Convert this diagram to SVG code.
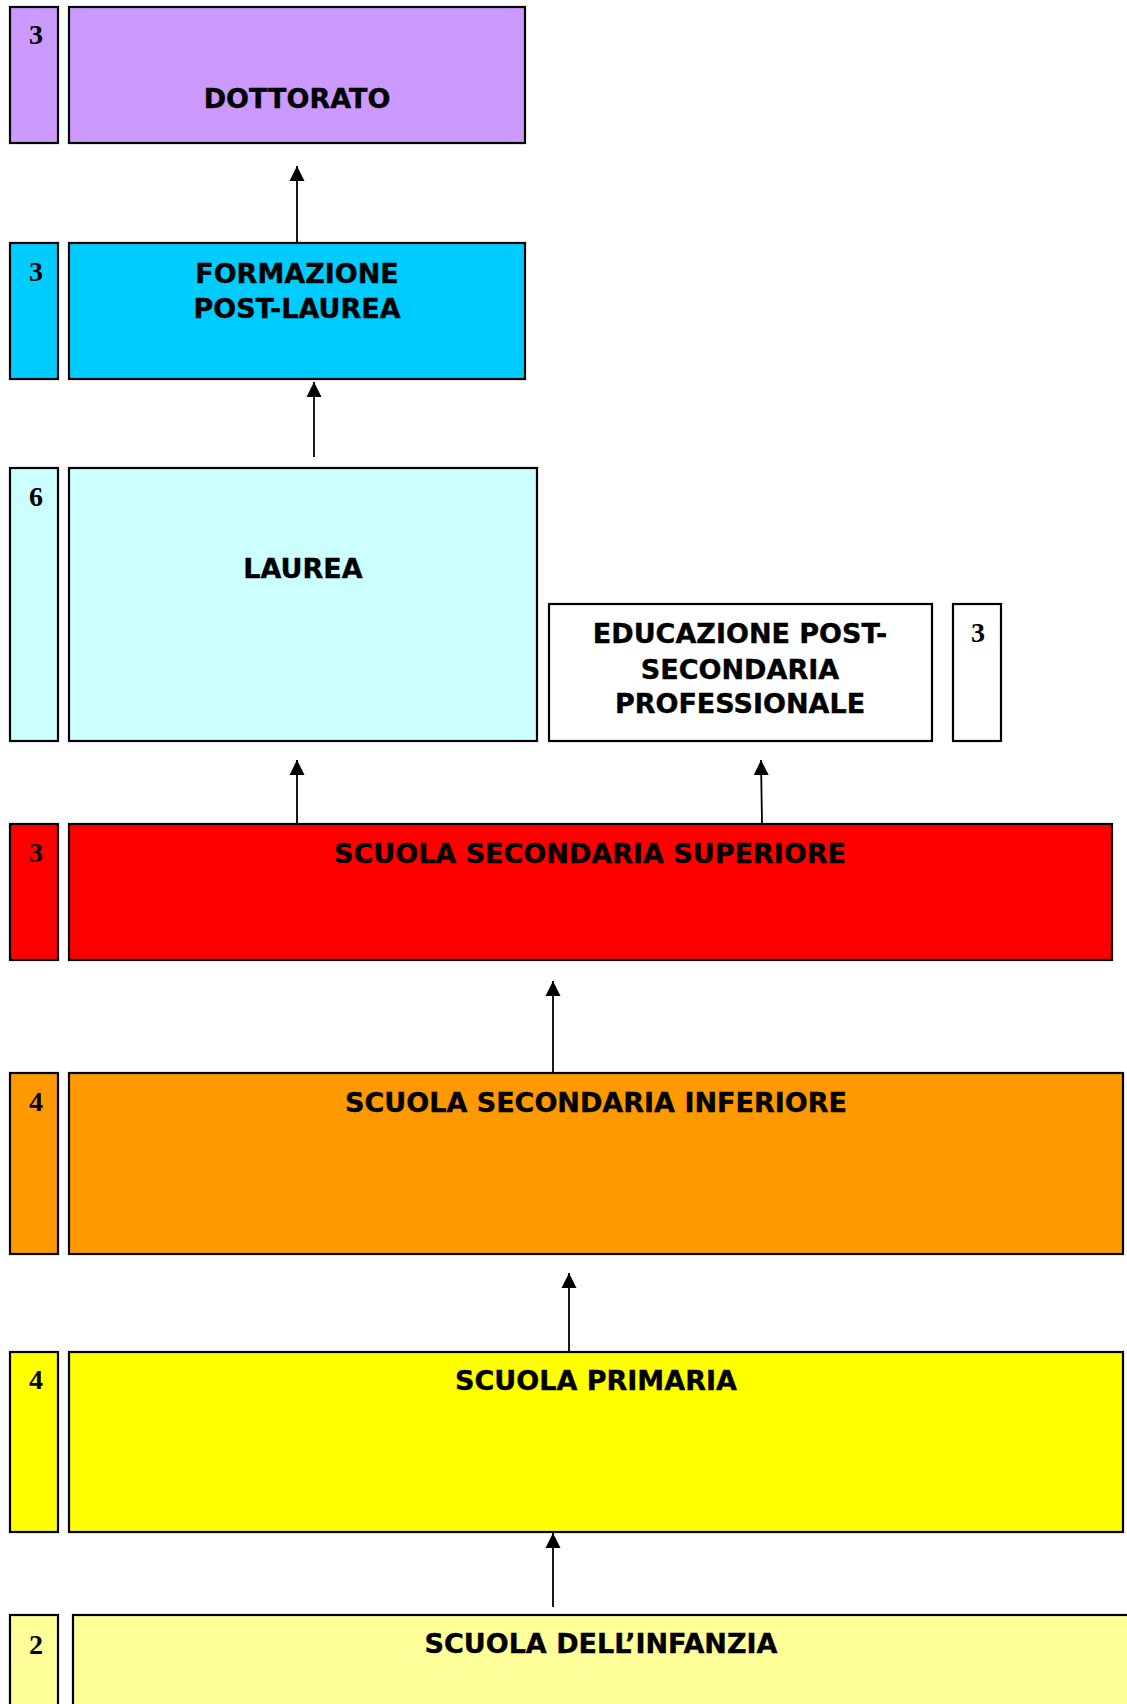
<svg xmlns="http://www.w3.org/2000/svg" width="1127" height="1704" viewBox="0 0 1127 1704">
<style>
.box{stroke:#000;stroke-width:2.2}
.lbl{font-family:"DejaVu Sans","Verdana",sans-serif;font-weight:bold;font-size:27px;fill:#000;text-anchor:middle;stroke:#000;stroke-width:0.4}
.num{font-family:"Liberation Serif","Times New Roman",serif;font-weight:bold;font-size:28px;fill:#000;text-anchor:middle}
.conn{stroke:#000;stroke-width:1.8;fill:none;marker-end:url(#ah)}
</style>
<defs>
<marker id="ah" markerUnits="userSpaceOnUse" markerWidth="16" markerHeight="16" viewBox="0 0 16 16" refX="15" refY="8" orient="auto">
<path d="M0,0.5 L15,8 L0,15.5 Z" fill="#000"/>
</marker>
</defs>
<rect width="1127" height="1704" fill="#fff"/>

<g id="dottorato">
<rect class="box" x="10" y="7" width="48" height="136" fill="#CC99FF"/>
<text class="num" x="36" y="44">3</text>
<rect class="box" x="69" y="7" width="456" height="136" fill="#CC99FF"/>
<text class="lbl" x="297" y="108">DOTTORATO</text>
</g>

<g id="formazione">
<rect class="box" x="10" y="243" width="48" height="136" fill="#00CCFF"/>
<text class="num" x="36" y="281">3</text>
<rect class="box" x="69" y="243" width="456" height="136" fill="#00CCFF"/>
<text class="lbl" x="297" y="283">FORMAZIONE</text>
<text class="lbl" x="297" y="318">POST-LAUREA</text>
</g>

<g id="laurea">
<rect class="box" x="10" y="468" width="48" height="273" fill="#CCFFFF"/>
<text class="num" x="36" y="506">6</text>
<rect class="box" x="69" y="468" width="468" height="273" fill="#CCFFFF"/>
<text class="lbl" x="303" y="578">LAUREA</text>
</g>

<g id="educazione">
<rect class="box" x="549" y="604" width="383" height="137" fill="#fff"/>
<text class="lbl" x="740" y="643">EDUCAZIONE POST-</text>
<text class="lbl" x="740" y="679">SECONDARIA</text>
<text class="lbl" x="740" y="713">PROFESSIONALE</text>
<rect class="box" x="953" y="604" width="48" height="137" fill="#fff"/>
<text class="num" x="978" y="642">3</text>
</g>

<g id="superiore">
<rect class="box" x="10" y="824" width="48" height="136" fill="#FF0000"/>
<text class="num" x="36" y="862">3</text>
<rect class="box" x="69" y="824" width="1043" height="136" fill="#FF0000"/>
<text class="lbl" x="590" y="863">SCUOLA SECONDARIA SUPERIORE</text>
</g>

<g id="inferiore">
<rect class="box" x="10" y="1073" width="48" height="181" fill="#FF9900"/>
<text class="num" x="36" y="1111">4</text>
<rect class="box" x="69" y="1073" width="1054" height="181" fill="#FF9900"/>
<text class="lbl" x="596" y="1112">SCUOLA SECONDARIA INFERIORE</text>
</g>

<g id="primaria">
<rect class="box" x="10" y="1352" width="48" height="180" fill="#FFFF00"/>
<text class="num" x="36" y="1389">4</text>
<rect class="box" x="69" y="1352" width="1054" height="180" fill="#FFFF00"/>
<text class="lbl" x="596" y="1390">SCUOLA PRIMARIA</text>
</g>

<g id="infanzia">
<rect class="box" x="10" y="1615" width="48" height="120" fill="#FFFF99"/>
<text class="num" x="36" y="1654">2</text>
<rect class="box" x="73" y="1615" width="1080" height="120" fill="#FFFF99"/>
<text class="lbl" x="601" y="1653">SCUOLA DELL’INFANZIA</text>
</g>

<g id="connectors">
<line class="conn" x1="297" y1="242" x2="297" y2="166"/>
<line class="conn" x1="314" y1="457" x2="314" y2="382"/>
<line class="conn" x1="297" y1="823" x2="297" y2="760"/>
<line class="conn" x1="762" y1="823" x2="761" y2="760"/>
<line class="conn" x1="553" y1="1072" x2="553" y2="981"/>
<line class="conn" x1="569" y1="1351" x2="569" y2="1273"/>
<line class="conn" x1="553" y1="1607" x2="553" y2="1533"/>
</g>
</svg>
